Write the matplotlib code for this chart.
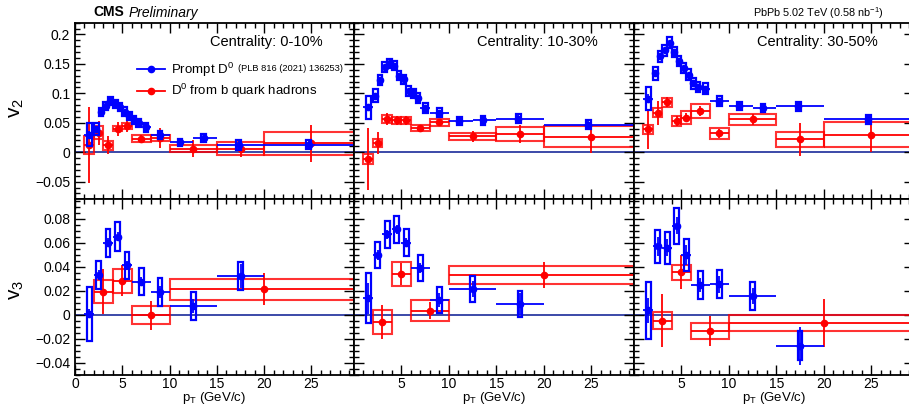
import matplotlib
matplotlib.use('Agg')
import matplotlib.pyplot as plt
from matplotlib.patches import Rectangle
from matplotlib.lines import Line2D
from matplotlib.ticker import MultipleLocator
import numpy as np

plt.rcParams['font.family'] = ['Liberation Sans', 'DejaVu Sans']
plt.rcParams['mathtext.fontset'] = 'custom'
plt.rcParams['mathtext.rm'] = 'Liberation Sans'
plt.rcParams['mathtext.it'] = 'Liberation Sans:italic'
plt.rcParams['mathtext.bf'] = 'Liberation Sans:bold'

centralities = ['0-10%', '10-30%', '30-50%']

# prompt D0 v2 (PLB 816 (2021) 136253)
pt_pr_v2 = [1.5, 2.25, 2.75, 3.25, 3.75, 4.25, 4.75, 5.25, 5.75, 6.25, 6.75, 7.5, 9.0, 11.1, 13.6, 17.3, 24.7]
edges_pr_v2 = [1, 2, 2.5, 3, 3.5, 4, 4.5, 5, 5.5, 6, 6.5, 7, 8, 10, 12.5, 15, 20, 30]
v2_pr_0_10 = [0.030, 0.040, 0.068, 0.078, 0.087, 0.082, 0.077, 0.069, 0.062, 0.055, 0.050, 0.042, 0.029, 0.017, 0.024, 0.012, 0.013]
v2_pr_0_10_stat = [0.006, 0.004, 0.003, 0.003, 0.003, 0.003, 0.003, 0.003, 0.003, 0.003, 0.003, 0.003, 0.004, 0.004, 0.005, 0.007, 0.010]
v2_pr_0_10_sys = [0.020, 0.010, 0.007, 0.007, 0.007, 0.007, 0.007, 0.007, 0.007, 0.007, 0.007, 0.007, 0.007, 0.006, 0.007, 0.008, 0.008]
v2_pr_10_30 = [0.076, 0.096, 0.123, 0.145, 0.151, 0.147, 0.130, 0.124, 0.104, 0.100, 0.092, 0.075, 0.067, 0.053, 0.054, 0.057, 0.047]
v2_pr_10_30_stat = [0.006, 0.004, 0.003, 0.003, 0.003, 0.003, 0.003, 0.003, 0.003, 0.003, 0.003, 0.003, 0.004, 0.004, 0.005, 0.006, 0.008]
v2_pr_10_30_sys = [0.020, 0.011, 0.008, 0.008, 0.008, 0.008, 0.008, 0.008, 0.008, 0.008, 0.008, 0.008, 0.008, 0.007, 0.007, 0.008, 0.008]
v2_pr_30_50 = [0.091, 0.134, 0.163, 0.173, 0.186, 0.170, 0.155, 0.143, 0.132, 0.117, 0.111, 0.108, 0.087, 0.079, 0.075, 0.078, 0.056]
v2_pr_30_50_stat = [0.008, 0.005, 0.004, 0.004, 0.004, 0.004, 0.004, 0.004, 0.004, 0.004, 0.004, 0.004, 0.004, 0.005, 0.006, 0.006, 0.008]
v2_pr_30_50_sys = [0.020, 0.0105, 0.009, 0.009, 0.009, 0.009, 0.009, 0.009, 0.009, 0.009, 0.009, 0.009, 0.008, 0.007, 0.007, 0.008, 0.008]

# D0 from b quark hadrons v2
pt_np_v2 = [1.5, 2.5, 3.5, 4.5, 5.5, 7.0, 9.0, 12.5, 17.5, 25.0]
edges_np_v2 = [1, 2, 3, 4, 5, 6, 8, 10, 15, 20, 30]
v2_np_0_10 = [0.012, 0.033, 0.012, 0.040, 0.044, 0.023, 0.024, 0.006, 0.006, 0.015]
v2_np_0_10_stat = [0.064, 0.020, 0.015, 0.012, 0.010, 0.006, 0.017, 0.014, 0.014, 0.031]
v2_np_0_10_sys = [0.015, 0.011, 0.0075, 0.004, 0.005, 0.006, 0.005, 0.006, 0.011, 0.020]
v2_np_10_30 = [-0.012, 0.016, 0.057, 0.054, 0.054, 0.0415, 0.051, 0.027, 0.031, 0.026]
v2_np_10_30_stat = [0.053, 0.019, 0.010, 0.007, 0.007, 0.005, 0.006, 0.009, 0.016, 0.028]
v2_np_10_30_sys = [0.0085, 0.007, 0.007, 0.006, 0.006, 0.005, 0.006, 0.006, 0.012, 0.018]
v2_np_30_50 = [0.0386, 0.067, 0.085, 0.0527, 0.0585, 0.0697, 0.0318, 0.0556, 0.0216, 0.030]
v2_np_30_50_stat = [0.033, 0.020, 0.008, 0.0085, 0.008, 0.008, 0.008, 0.009, 0.028, 0.030]
v2_np_30_50_sys = [0.0077, 0.008, 0.0077, 0.0085, 0.011, 0.012, 0.0095, 0.0095, 0.012, 0.021]

# prompt D0 v3
pt_pr_v3 = [1.5, 2.5, 3.5, 4.5, 5.5, 7.0, 9.0, 12.5, 17.5]
edges_pr_v3 = [1, 2, 3, 4, 5, 6, 8, 10, 15, 20]
v3_pr_0_10 = [0.001, 0.033, 0.060, 0.065, 0.041, 0.0276, 0.019, 0.0074, 0.032]
v3_pr_0_10_stat = [0.004, 0.004, 0.004, 0.004, 0.004, 0.004, 0.005, 0.006, 0.010]
v3_pr_0_10_sys = [0.0225, 0.0117, 0.0117, 0.012, 0.0115, 0.0115, 0.0115, 0.0113, 0.0116]
v3_pr_10_30 = [0.0138, 0.0497, 0.0668, 0.071, 0.060, 0.039, 0.0124, 0.0215, 0.0088]
v3_pr_10_30_stat = [0.013, 0.004, 0.004, 0.004, 0.004, 0.004, 0.006, 0.007, 0.009]
v3_pr_10_30_sys = [0.021, 0.011, 0.0115, 0.0115, 0.0115, 0.011, 0.011, 0.0106, 0.0106]
v3_pr_30_50 = [0.0036, 0.057, 0.0557, 0.074, 0.0497, 0.0248, 0.0254, 0.0157, -0.0257]
v3_pr_30_50_stat = [0.010, 0.008, 0.007, 0.007, 0.008, 0.006, 0.007, 0.007, 0.016]
v3_pr_30_50_sys = [0.0235, 0.0138, 0.0135, 0.015, 0.013, 0.0117, 0.0117, 0.0115, 0.012]

# D0 from b quark hadrons v3
pt_np_v3 = [3.0, 5.0, 8.0, 20.0]
edges_np_v3 = [2, 4, 6, 10, 30]
v3_np_0_10 = [0.0193, 0.0284, -0.0003, 0.0213]
v3_np_0_10_stat = [0.019, 0.013, 0.012, 0.0135]
v3_np_0_10_sys = [0.0097, 0.010, 0.0073, 0.0086]
v3_np_10_30 = [-0.006, 0.034, 0.0033, 0.0331]
v3_np_10_30_stat = [0.0145, 0.009, 0.007, 0.011]
v3_np_10_30_sys = [0.0103, 0.0103, 0.0087, 0.0076]
v3_np_30_50 = [-0.005, 0.0353, -0.0132, -0.0069]
v3_np_30_50_stat = [0.022, 0.014, 0.0125, 0.020]
v3_np_30_50_sys = [0.007, 0.0062, 0.0065, 0.0066]

v2_pr = [(v2_pr_0_10, v2_pr_0_10_stat, v2_pr_0_10_sys),
         (v2_pr_10_30, v2_pr_10_30_stat, v2_pr_10_30_sys),
         (v2_pr_30_50, v2_pr_30_50_stat, v2_pr_30_50_sys)]
v2_np = [(v2_np_0_10, v2_np_0_10_stat, v2_np_0_10_sys),
         (v2_np_10_30, v2_np_10_30_stat, v2_np_10_30_sys),
         (v2_np_30_50, v2_np_30_50_stat, v2_np_30_50_sys)]
v3_pr = [(v3_pr_0_10, v3_pr_0_10_stat, v3_pr_0_10_sys),
         (v3_pr_10_30, v3_pr_10_30_stat, v3_pr_10_30_sys),
         (v3_pr_30_50, v3_pr_30_50_stat, v3_pr_30_50_sys)]
v3_np = [(v3_np_0_10, v3_np_0_10_stat, v3_np_0_10_sys),
         (v3_np_10_30, v3_np_10_30_stat, v3_np_10_30_sys),
         (v3_np_30_50, v3_np_30_50_stat, v3_np_30_50_sys)]

BLUE = '#0000ff'
RED = '#ff0000'
W, H = 909, 409
fig = plt.figure(figsize=(W / 100, H / 100), dpi=100)

col_x = [75, 354, 634]
col_w = [279, 280, 280]
top_y0, mid_y, bot_y1 = 22.7, 199.3, 375.0


def px_axes(x0, y0, w, h):
    return fig.add_axes([x0 / W, 1 - (y0 + h) / H, w / W, h / H])


def draw_prompt(ax, pt, edges, vals, stat, sys):
    pt = np.array(pt)
    e = np.array(edges)
    xerr = [pt - e[:-1], e[1:] - pt]
    for x, y, s in zip(pt, vals, sys):
        ax.add_patch(Rectangle((x - 0.25, y - s), 0.5, 2 * s, fill=False,
                               edgecolor=BLUE, lw=1.6, zorder=4))
    return ax.errorbar(pt, vals, xerr=xerr, yerr=stat, fmt='o', color=BLUE,
                       ms=4.5, elinewidth=1.3, capsize=0, zorder=5)


def draw_nonprompt(ax, pt, edges, vals, stat, sys):
    pt = np.array(pt)
    e = np.array(edges)
    xerr = [pt - e[:-1], e[1:] - pt]
    for lo, hi, y, s in zip(e[:-1], e[1:], vals, sys):
        ax.add_patch(Rectangle((lo, y - s), hi - lo, 2 * s, fill=False,
                               edgecolor=RED, lw=1.5, alpha=0.8, zorder=2))
    return ax.errorbar(pt, vals, xerr=xerr, yerr=stat, fmt='o', color=RED,
                       ms=4.5, elinewidth=1.3, capsize=0, zorder=3)


def style(ax, ymin, ymax, ymaj, ymin_step, show_x, show_y):
    ax.set_xlim(0, 29.5)
    ax.set_ylim(ymin, ymax)
    ax.xaxis.set_major_locator(MultipleLocator(5))
    ax.xaxis.set_minor_locator(MultipleLocator(1))
    ax.yaxis.set_major_locator(MultipleLocator(ymaj))
    ax.yaxis.set_minor_locator(MultipleLocator(ymin_step))
    ax.tick_params(which='both', direction='in', top=True, right=True,
                   labelsize=10, width=1.0)
    ax.tick_params(which='major', length=7)
    ax.tick_params(which='minor', length=3.5)
    ax.tick_params(axis='x', pad=1.5)
    for sp in ax.spines.values():
        sp.set_linewidth(1.3)
    ax.axhline(0, color='#1a2a9a', lw=1.2, zorder=1)
    if not show_x:
        ax.tick_params(labelbottom=False)
    if not show_y:
        ax.tick_params(labelleft=False)


cent_pos = [0.889, 0.872, 0.872]

for i in range(3):
    ax_top = px_axes(col_x[i], top_y0, col_w[i], mid_y - top_y0)
    ax_bot = px_axes(col_x[i], mid_y, col_w[i], bot_y1 - mid_y)

    style(ax_top, -0.08, 0.22, 0.05, 0.01, False, i == 0)
    style(ax_bot, -0.05, 0.096, 0.02, 0.005, True, i == 0)

    v, s, sy = v2_np[i]
    draw_nonprompt(ax_top, pt_np_v2, edges_np_v2, v, s, sy)
    v, s, sy = v2_pr[i]
    draw_prompt(ax_top, pt_pr_v2, edges_pr_v2, v, s, sy)

    v, s, sy = v3_np[i]
    draw_nonprompt(ax_bot, pt_np_v3, edges_np_v3, v, s, sy)
    v, s, sy = v3_pr[i]
    draw_prompt(ax_bot, pt_pr_v3, edges_pr_v3, v, s, sy)

    if i == 0:
        ax_top.set_yticks([-0.05, 0, 0.05, 0.1, 0.15, 0.2])
        ax_top.set_yticklabels(['\u22120.05', '0', '0.05', '0.1', '0.15', '0.2'])
        ax_bot.set_yticks([-0.04, -0.02, 0, 0.02, 0.04, 0.06, 0.08])
        ax_bot.set_yticklabels(['\u22120.04', '\u22120.02', '0', '0.02', '0.04', '0.06', '0.08'])
        ax_bot.set_xticks([0, 5, 10, 15, 20, 25])
        handles = [Line2D([], [], color=BLUE, marker='o', ms=4.5, lw=1.3),
                   Line2D([], [], color=RED, marker='o', ms=4.5, lw=1.3)]
        ax_top.legend(handles, ['Prompt D$^0$', 'D$^0$ from b quark hadrons'],
                      loc='upper left', bbox_to_anchor=(0.222, 0.785),
                      frameon=False, fontsize=9.5, handlelength=2.1,
                      handletextpad=0.45, borderpad=0, borderaxespad=0,
                      labelspacing=0.25)
        ax_top.text(0.585, 0.738, '(PLB 816 (2021) 136253)', transform=ax_top.transAxes,
                    fontsize=6.7, va='center', ha='left')
    else:
        ax_bot.set_xticks([5, 10, 15, 20, 25])

    ax_top.text(cent_pos[i], 0.893, 'Centrality: ' + centralities[i],
                transform=ax_top.transAxes, fontsize=10.5, ha='right', va='center')
    ax_bot.set_xlabel('p$_\\mathrm{T}$ (GeV/c)', fontsize=9.5, labelpad=-0.5)

fig.text(17 / W, 1 - 108 / H, 'v$_2$', fontsize=15, rotation=90, ha='center', va='center')
fig.text(17 / W, 1 - 290 / H, 'v$_3$', fontsize=15, rotation=90, ha='center', va='center')
fig.text(93 / W, 1 - 12.5 / H, 'CMS', fontsize=10, fontweight='bold', ha='left', va='center')
fig.text(129 / W, 1 - 12.5 / H, 'Preliminary', fontsize=10, style='italic', ha='left', va='center')
fig.text(884 / W, 1 - 13.5 / H, 'PbPb 5.02 TeV (0.58 nb$^{-1}$)', fontsize=7.8, ha='right', va='center')

fig.savefig('out.png', dpi=100)
